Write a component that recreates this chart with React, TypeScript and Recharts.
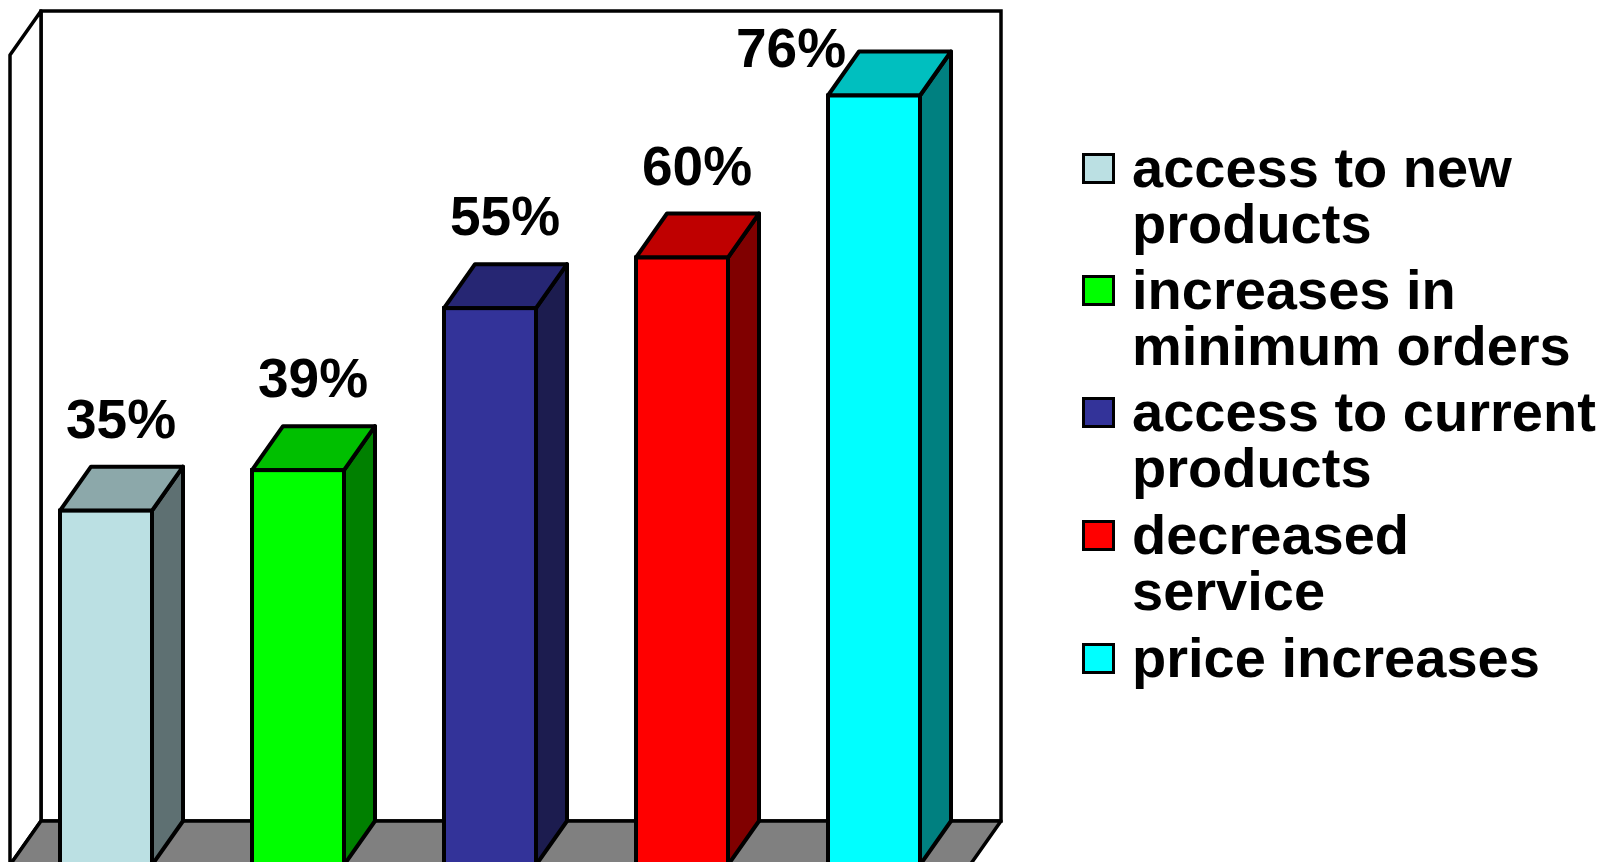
import React from 'react';
import { BarChart, Bar, XAxis, YAxis, ReferenceArea, LabelList } from 'recharts';

const CATEGORIES = [
  'access to new products',
  'increases in minimum orders',
  'access to current products',
  'decreased service',
  'price increases',
];
const VALUES = [35, 39, 55, 60, 76];
const LEGEND_LINES = [
  ['access to new', 'products'],
  ['increases in', 'minimum orders'],
  ['access to current', 'products'],
  ['decreased', 'service'],
  ['price increases'],
];
const FRONT_COLORS = ['#BBE0E3', '#00FF00', '#333399', '#FF0000', '#00FFFF'];
const TOP_COLORS = ['#8CA8AA', '#00BF00', '#262673', '#BF0000', '#00BFBF'];
const SIDE_COLORS = ['#5E7072', '#008000', '#1C1C4F', '#800000', '#008080'];

const data = CATEGORIES.map((name, i) => ({ name, value: VALUES[i] }));

const DX = 31;
const DY = 44;
const FONT = "'Liberation Sans', Arial, Helvetica, sans-serif";
const SW = 4;
const WALL_SW = 3.5;

function Walls(props: any) {
  const { x, y, width, height } = props;
  const l = x;
  const r = x + width;
  const t = y;
  const b = y + height;
  return (
    <g>
      <rect x={l + DX} y={t - DY} width={width} height={height} fill="#fff" stroke="#000" strokeWidth={WALL_SW} />
      <polygon
        points={`${l},${t} ${l + DX},${t - DY} ${l + DX},${b - DY} ${l},${b}`}
        fill="#fff"
        stroke="#000"
        strokeWidth={WALL_SW}
        strokeLinejoin="round"
      />
      <polygon
        points={`${l + DX},${b - DY} ${r + DX},${b - DY} ${r},${b} ${l},${b}`}
        fill="#808080"
        stroke="#000"
        strokeWidth={WALL_SW}
        strokeLinejoin="round"
      />
    </g>
  );
}

function Bar3D(props: any) {
  const { x, y, width, height, index } = props;
  const w = width;
  const h = height;
  return (
    <g>
      <polygon
        points={`${x + w},${y} ${x + w + DX},${y - DY} ${x + w + DX},${y + h - DY} ${x + w},${y + h}`}
        fill={SIDE_COLORS[index]}
        stroke="#000"
        strokeWidth={SW}
        strokeLinejoin="round"
      />
      <polygon
        points={`${x},${y} ${x + DX},${y - DY} ${x + w + DX},${y - DY} ${x + w},${y}`}
        fill={TOP_COLORS[index]}
        stroke="#000"
        strokeWidth={SW}
        strokeLinejoin="round"
      />
      <rect x={x} y={y} width={w} height={h} fill={FRONT_COLORS[index]} stroke="#000" strokeWidth={SW} />
    </g>
  );
}

function Label3D(props: any) {
  const vb = props.viewBox && props.viewBox.width !== undefined ? props.viewBox : props;
  const { x, y, width } = vb;
  let cx = x + width / 2 + 15;
  let baseline = y - 73;
  if (baseline - 38 < 28) {
    baseline = 67;
    cx = x - 37;
  }
  return (
    <text
      x={cx}
      y={baseline}
      textAnchor="middle"
      fontFamily={FONT}
      fontWeight="bold"
      fontSize={55}
      fill="#000"
    >
      {`${props.value}%`}
    </text>
  );
}

const LEGEND_BASELINES = [187, 309, 431, 554, 677];

function LegendBlock() {
  return (
    <div>
      {LEGEND_LINES.map((lines, i) => (
        <div key={i}>
          <div
            style={{
              position: 'absolute',
              left: 1082,
              top: LEGEND_BASELINES[i] - 34,
              width: 33,
              height: 31,
              boxSizing: 'border-box',
              border: '3px solid #000',
              background: FRONT_COLORS[i],
            }}
          />
          <div
            style={{
              position: 'absolute',
              left: 1132,
              top: LEGEND_BASELINES[i] - 47.4,
              fontFamily: FONT,
              fontWeight: 'bold',
              fontSize: 56,
              lineHeight: '56px',
              color: '#000',
              whiteSpace: 'nowrap',
            }}
          >
            {lines.map((ln, j) => (
              <div key={j}>{ln}</div>
            ))}
          </div>
        </div>
      ))}
    </div>
  );
}

export default function App() {
  return (
    <div
      style={{
        position: 'fixed',
        left: 0,
        top: 0,
        width: 1601,
        height: 862,
        overflow: 'hidden',
        background: '#fff',
      }}
    >
      <div style={{ position: 'absolute', left: 0, top: 0 }}>
        <BarChart width={1601} height={905} data={data} margin={{ top: 55, right: 631, bottom: 40, left: 10 }}>
          <XAxis dataKey="name" hide />
          <YAxis hide type="number" domain={[0, 80]} />
          <ReferenceArea y1={0} y2={80} shape={Walls} ifOverflow="visible" />
          <Bar dataKey="value" barSize={92} shape={Bar3D} isAnimationActive={false}>
            <LabelList dataKey="value" content={Label3D} />
          </Bar>
        </BarChart>
      </div>
      <LegendBlock />
    </div>
  );
}
